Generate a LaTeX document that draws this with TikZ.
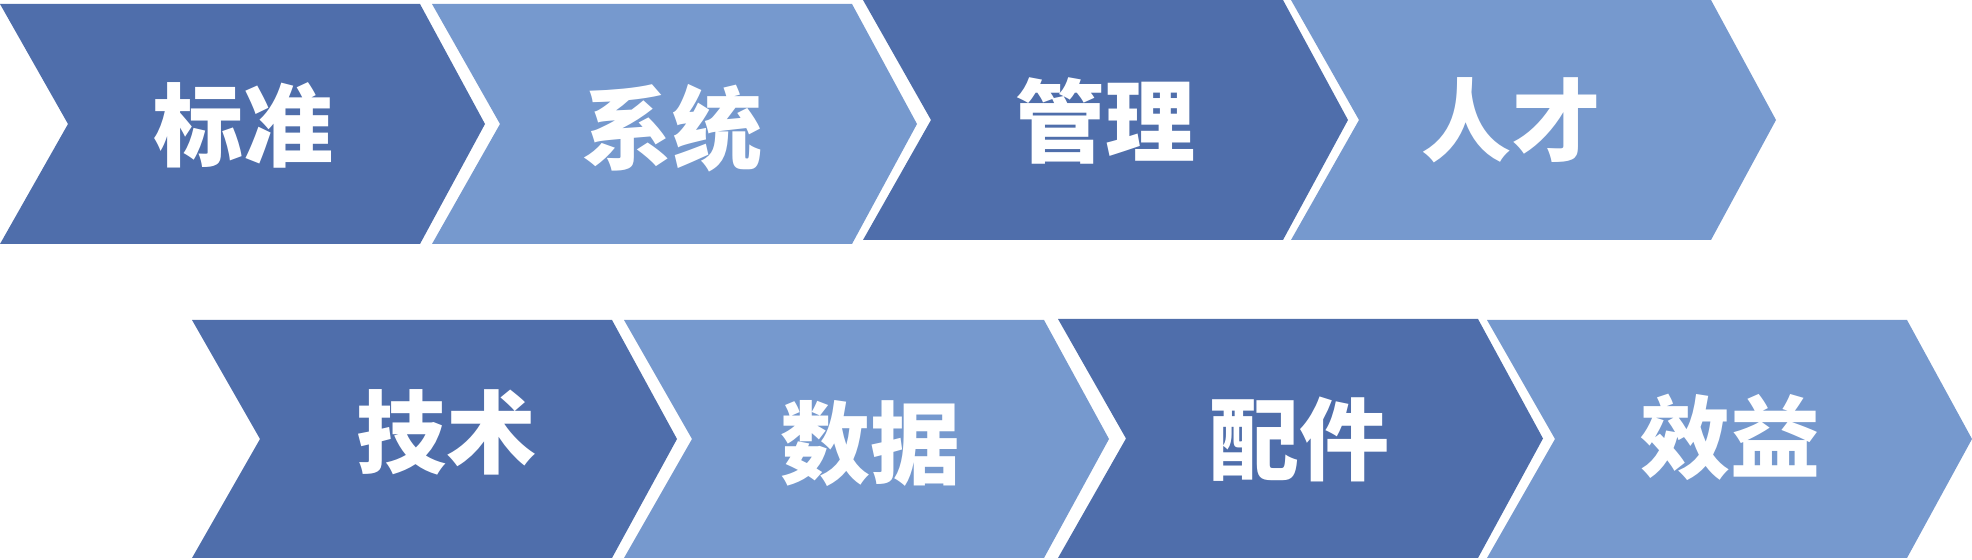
\documentclass[tikz,border=0pt]{standalone}
\usepackage{fontspec}
\usepackage{tikz}
\usetikzlibrary{positioning}
\newfontfamily\cjk{Noto Sans CJK SC}
\definecolor{chevdark}{RGB}{79,110,171}
\definecolor{chevlight}{RGB}{118,153,206}
% chevron: style, left x, top y, bottom y
\newcommand{\chevron}[4]{
\fill[#1] (#2,#3) -- ++(420,0) -- ++(65,{(#4-#3)/2}) -- ++(-65,{(#4-#3)/2})
-- ++(-420,0) -- ++(68,{-(#4-#3)/2}) -- cycle;
}
\begin{document}
\begin{tikzpicture}[x=0.5pt, y=-0.5pt,
				dark/.style = {fill = chevdark},
				light/.style = {fill = chevlight},
				caption/.style = {text = white, inner sep = 0pt, font = \cjk\bfseries\fontsize{45}{45}\selectfont},
			]
			\useasboundingbox (0,0) rectangle (1972,560);

			\chevron{dark}{0}{4}{244}
			\chevron{light}{432}{4}{244}
			\chevron{dark}{863}{0}{240}
			\chevron{light}{1291}{0}{240}
			\chevron{dark}{192}{320}{558}
			\chevron{light}{624}{320}{558}
			\chevron{dark}{1058}{319}{558}
			\chevron{light}{1487}{320}{558}

			\node[caption](std) at (243,125){标准};
			\node[caption](sys) at (672,128){系统};
			\node[caption](mgmt) at (1105,121){管理};
			\node[caption](talent) at (1511,120){人才};
			\node[caption](tech) at (446,432){技术};
			\node[caption](data) at (870,444){数据};
			\node[caption](parts) at (1299,439){配件};
			\node[caption](benefit) at (1730,437){效益};

		\end{tikzpicture}
\end{document}
